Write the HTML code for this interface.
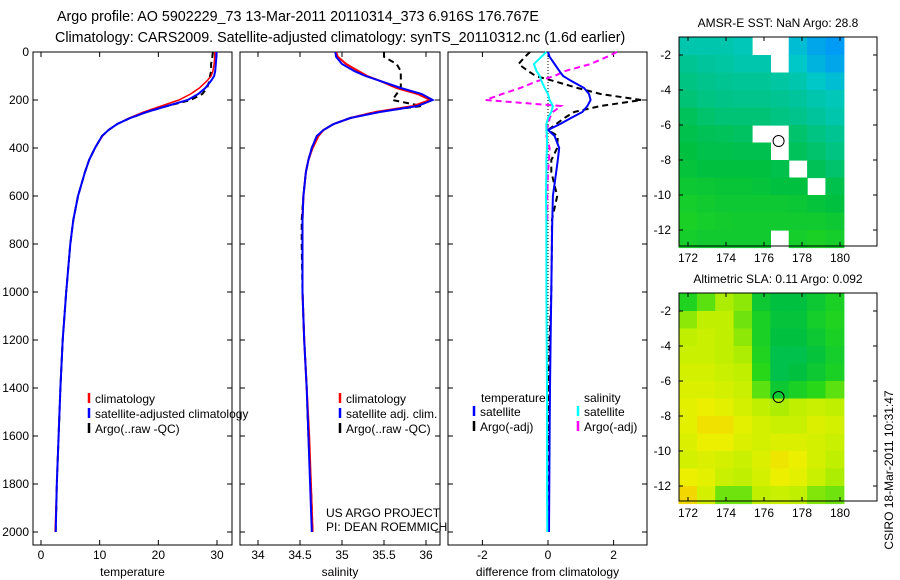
<!DOCTYPE html>
<html><head><meta charset="utf-8"><style>
html,body{margin:0;padding:0;background:#fff;}
svg{display:block;font-family:"Liberation Sans",sans-serif;}
text{fill:#000;font-size:12px;}
</style></head><body>
<svg id="fig" width="900" height="580" viewBox="0 0 900 580">
<text x="57" y="21" style="font-size:14.3px">Argo profile: AO 5902229_73 13-Mar-2011 20110314_373 6.916S 176.767E</text>
<text x="55" y="42" style="font-size:14.3px">Climatology: CARS2009. Satellite-adjusted climatology: synTS_20110312.nc (1.6d earlier)</text>
</svg>
<script>
const depths=[0,20,50,80,100,120,150,175,200,225,250,275,300,325,350,400,450,500,600,700,800,1000,1200,1400,1600,1800,2000];
const tempClim=[29.6,29.6,29.5,29.3,29.0,28.3,27.0,25.5,23.5,20.5,17.5,15.0,13.0,11.5,10.5,9.2,8.2,7.5,6.3,5.5,5.0,4.3,3.7,3.3,3.0,2.7,2.4];
const tempSat=[29.9,29.9,29.8,29.7,29.5,29.0,28.0,26.8,25.0,21.5,18.0,15.2,13.0,11.5,10.4,9.2,8.2,7.5,6.3,5.5,5.0,4.3,3.7,3.3,3.0,2.7,2.5];
const tempArgo=[29.3,29.2,29.0,29.0,28.8,28.7,28.3,27.5,25.5,21.5,18.0,15.2,13.0,11.5,10.4,9.2,8.2,7.5,6.3,5.5,5.0,4.3,3.7,3.3,3.0,2.7,2.5];
const salClim=[34.93,34.95,35.05,35.2,35.3,35.45,35.65,35.9,36.05,35.85,35.4,35.1,34.9,34.78,34.72,34.65,34.6,34.57,34.54,34.53,34.53,34.53,34.55,34.58,34.61,34.63,34.65];
const salSat=[34.92,34.93,35.0,35.15,35.28,35.45,35.7,35.95,36.08,35.9,35.45,35.1,34.9,34.78,34.7,34.64,34.6,34.57,34.54,34.53,34.53,34.53,34.55,34.58,34.6,34.62,34.64];
const salArgo=[35.5,35.5,35.65,35.7,35.7,35.7,35.7,35.65,35.6,35.95,35.4,35.1,34.9,34.78,34.7,34.64,34.6,34.57,34.54,34.52,34.52,34.53,34.55,34.58,34.6,34.63,34.65];
const dTempSat=[0,0.05,0.2,0.35,0.46,0.7,1.1,1.25,1.3,1.2,1.05,0.7,0.37,0.0,0.2,0.34,0.3,0.25,0.15,0.13,0.12,0.1,0.08,0.06,0.05,0.04,0.03];
const dTempArgo=[-0.55,-0.7,-0.9,-0.6,-0.37,0.15,0.9,1.6,2.85,1.6,0.8,0.5,0.25,0.0,0.3,0.28,0.1,0.1,0.28,0.12,0.12,0.1,0.05,0.02,0.0,0.0,0.0];
const dSalSat=[-0.05,-0.2,-0.43,-0.35,-0.25,-0.2,-0.1,0.0,0.05,0.15,0.1,0.0,-0.05,-0.05,-0.03,-0.03,-0.05,-0.05,-0.06,-0.05,-0.05,-0.05,-0.04,-0.03,-0.03,-0.03,-0.02];
const dSalArgo=[2.1,1.8,1.3,0.5,0.2,-0.3,-0.85,-1.4,-1.9,0.4,0.15,0.05,0.02,-0.05,-0.05,0.05,0.03,0.0,-0.02,-0.02,0,0,0,0,0,0,0];
const depthTicks=[0,200,400,600,800,1000,1200,1400,1600,1800,2000];
const tempTicks=[0,10,20,30];
const salTicks=[34,34.5,35,35.5,36];
const salTickLabels=["34","34.5","35","35.5","36"];
const diffTicks=[-2,0,2];
const lonTicks=[172,174,176,178,180];
const latTicks=[-2,-4,-6,-8,-10,-12];
const sstGrid=[
[.30,.30,.30,.28,null,null,.20,.10,.05],
[.35,.33,.32,.30,.30,null,.25,.15,.10],
[.38,.36,.35,.34,.34,.32,.30,.25,.20],
[.40,.38,.37,.36,.36,.35,.33,.30,.28],
[.45,.42,.40,.40,.40,.38,.36,.33,.30],
[.48,.46,.45,.44,null,null,.42,.38,.35],
[.50,.48,.48,.47,.47,null,.45,.42,.38],
[.52,.50,.50,.50,.50,.48,null,.46,.42],
[.55,.54,.53,.53,.52,.50,.50,null,.48],
[.58,.56,.55,.55,.55,.55,.54,.52,.50],
[.60,.58,.57,.56,.56,.56,.56,.56,.55],
[.58,.56,.56,.56,.56,null,.58,.60,.58]];
const slaGrid=[
[.62,.70,.78,.75,.55,.50,.50,.55,.60],
[.75,.80,.80,.72,.60,.52,.52,.58,.62],
[.80,.82,.80,.75,.60,.50,.50,.55,.60],
[.82,.82,.80,.78,.62,.48,.48,.52,.58],
[.84,.84,.82,.80,.65,.48,.50,.55,.60],
[.86,.86,.84,.82,.70,.55,.60,.65,.70],
[.88,.90,.88,.84,.80,.78,.80,.82,.80],
[.88,.93,.93,.88,.84,.82,.82,.86,.84],
[.86,.90,.90,.86,.84,.86,.86,.84,.82],
[.84,.86,.84,.82,.86,.92,.90,.84,.80],
[.90,.88,.82,.80,.84,.90,.88,.82,.78],
[.95,.84,.72,.72,.80,.82,.80,.74,.72]];
const argoLon=176.767, argoLat=-6.916;

const NS="http://www.w3.org/2000/svg";
const svg=document.getElementById('fig');
function mk(tag,attrs,parent){const e=document.createElementNS(NS,tag);for(const k in attrs)e.setAttribute(k,attrs[k]);(parent||svg).appendChild(e);return e;}
function txt(x,y,s,anchor,parent){const t=mk('text',{x:x,y:y,'text-anchor':anchor||'start'},parent);t.textContent=s;return t;}

const top0=52,bot0=545;
const yD=d=>top0+d*0.24;
function panel(name,x0,x1,xScale,ticks,labels,xtitle,leftLabels){
  const g=mk('g',{});
  
  
  const r=mk('rect',{x:x0,y:top0,width:x1-x0,height:bot0-top0,fill:'none',stroke:'#000','stroke-width':1},g);
  
  
  depthTicks.forEach(d=>{
    mk('line',{x1:x0,x2:x0+5,y1:yD(d),y2:yD(d),stroke:'#000'},g);
    mk('line',{x1:x1,x2:x1-5,y1:yD(d),y2:yD(d),stroke:'#000'},g);
    if(leftLabels){const t=txt(x0-4,yD(d)+4,String(d),'end',g);
      
      }
  });
  ticks.forEach((v,i)=>{
    const x=xScale(v);
    mk('line',{x1:x,x2:x,y1:bot0,y2:bot0-5,stroke:'#000'},g);
    mk('line',{x1:x,x2:x,y1:top0,y2:top0+5,stroke:'#000'},g);
    const t=txt(x,559,labels[i],'middle',g);
    
    
  });
  const t=txt((x0+x1)/2,576,xtitle,'middle',g);
  
  
  return g;
}
function series(g,name,vals,xScale,color,width,dash,maxD){
  let pts=[];
  depths.forEach((d,i)=>{if(maxD===undefined||d<=maxD)pts.push(xScale(vals[i]).toFixed(1)+','+yD(d).toFixed(1));});
  const p=mk('polyline',{points:pts.join(' '),fill:'none',stroke:color,'stroke-width':width},g);
  if(dash)p.setAttribute('stroke-dasharray',dash);
  
  
}
function legend(g,x,y,color,label,name){
  const l=mk('line',{x1:x,x2:x,y1:y-10,y2:y,stroke:color,'stroke-width':2.5},g);
  
  
  const t=txt(x+6,y,label,'start',g);
  
  
}

const xT=v=>41+v*5.867;
const g1=panel('temperature',33,232,xT,tempTicks,tempTicks.map(String),'temperature',true);
series(g1,'temperature-argo-line',tempArgo,xT,'#000',2,'6,4');
series(g1,'temperature-climatology-line',tempClim,xT,'#f00',1.5);
series(g1,'temperature-satellite-line',tempSat,xT,'#00f',2);
legend(g1,89,403,'#f00','climatology','legend-climatology');
legend(g1,89,418,'#00f','satellite-adjusted climatology','legend-satellite-adjusted');
legend(g1,89,433,'#000','Argo(..raw -QC)','legend-argo');

const xS=v=>258+(v-34)*84;
const g2=panel('salinity',240,440,xS,salTicks,salTickLabels,'salinity',false);
series(g2,'salinity-argo-line',salArgo,xS,'#000',2,'6,4');
series(g2,'salinity-climatology-line',salClim,xS,'#f00',2);
series(g2,'salinity-satellite-line',salSat,xS,'#00f',2);
legend(g2,340,403,'#f00','climatology','legend-sal-climatology');
legend(g2,340,418,'#00f','satellite adj. clim.','legend-sal-satellite');
legend(g2,340,433,'#000','Argo(..raw -QC)','legend-sal-argo');
txt(326,517,'US ARGO PROJECT','start',g2);
txt(326,531,'PI: DEAN ROEMMICH','start',g2);

const xDf=v=>548+v*32.8;
const g3=panel('difference',448,647,xDf,diffTicks,diffTicks.map(String),'difference from climatology',false);
const zl=mk('line',{x1:xDf(0),x2:xDf(0),y1:top0,y2:yD(1650),stroke:'#000','stroke-width':1,'stroke-dasharray':'1,2'},g3);


series(g3,'diff-temp-argo-line',dTempArgo,xDf,'#000',2,'6,4');
series(g3,'diff-sal-argo-line',dSalArgo,xDf,'#f0f',2,'6,4',700);
series(g3,'diff-temp-satellite-line',dTempSat,xDf,'#00f',2);
series(g3,'diff-sal-satellite-line',dSalSat,xDf,'#0ff',2);
txt(481,402,'temperature','start',g3);
txt(584,402,'salinity','start',g3);
legend(g3,474,416,'#00f','satellite','legend-diff-temp-satellite');
legend(g3,474,431,'#000','Argo(-adj)','legend-diff-temp-argo');
legend(g3,578,416,'#0ff','satellite','legend-diff-sal-satellite');
legend(g3,578,431,'#f0f','Argo(-adj)','legend-diff-sal-argo');

const stops=[[0,[0,144,255]],[0.25,[0,200,200]],[0.5,[0,192,64]],[0.65,[40,216,24]],[0.8,[192,240,0]],[0.9,[236,240,0]],[1,[248,190,0]]];
function cmap(v){for(let i=1;i<stops.length;i++){if(v<=stops[i][0]){const a=stops[i-1],b=stops[i];const t=(v-a[0])/(b[0]-a[0]);return 'rgb('+a[1].map((c,k)=>Math.round(c+(b[1][k]-c)*t)).join(',')+')';}}return 'rgb(248,190,0)';}

function mapPanel(name,y0,y1,grid,title,latRef){
  const g=mk('g',{});
  
  
  const x0=679,x1=877;
  const xL=lon=>688+(lon-172)*19;
  const yL=lat=>latRef+(-2-lat)*17.5;
  const lon0=171.5,lat0=-1.0,dLon=(180.2-171.5)/9,dLat=(13.0-1.0)/12;
  grid.forEach((row,r)=>row.forEach((v,c)=>{
    if(v===null)return;
    const cx=xL(lon0+c*dLon), cy=yL(lat0-r*dLat);
    const cell=mk('rect',{x:cx.toFixed(1),y:cy.toFixed(1),width:(dLon*19+0.6).toFixed(1),height:(dLat*17.5+0.6).toFixed(1),fill:cmap(v)},g);
    
    
  }));
  const b=mk('rect',{x:x0,y:y0,width:x1-x0,height:y1-y0,fill:'none',stroke:'#000'},g);
  
  
  lonTicks.forEach(l=>{const x=xL(l);
    mk('line',{x1:x,x2:x,y1:y1,y2:y1-4,stroke:'#000'},g);
    mk('line',{x1:x,x2:x,y1:y0,y2:y0+4,stroke:'#000'},g);
    txt(x,y1+16,String(l),'middle',g);});
  latTicks.forEach(l=>{const y=yL(l);
    mk('line',{x1:x0,x2:x0+4,y1:y,y2:y,stroke:'#000'},g);
    mk('line',{x1:x1,x2:x1-4,y1:y,y2:y,stroke:'#000'},g);
    txt(x0-8,y+4,String(l),'end',g);});
  const c=mk('circle',{cx:xL(argoLon),cy:yL(argoLat),r:5.5,fill:'none',stroke:'#000'},g);
  
  
  const t=txt(778,y0-10,title,'middle',g);
  
  
}
mapPanel('sst',37,246,sstGrid,'AMSR-E SST: NaN Argo: 28.8',55);
mapPanel('sla',293,501,slaGrid,'Altimetric SLA: 0.11 Argo: 0.092',311);

const cs=txt(0,0,'CSIRO 18-Mar-2011 10:31:47','middle');
cs.setAttribute('transform','translate(893,470) rotate(-90)');


</script>
</body></html>
